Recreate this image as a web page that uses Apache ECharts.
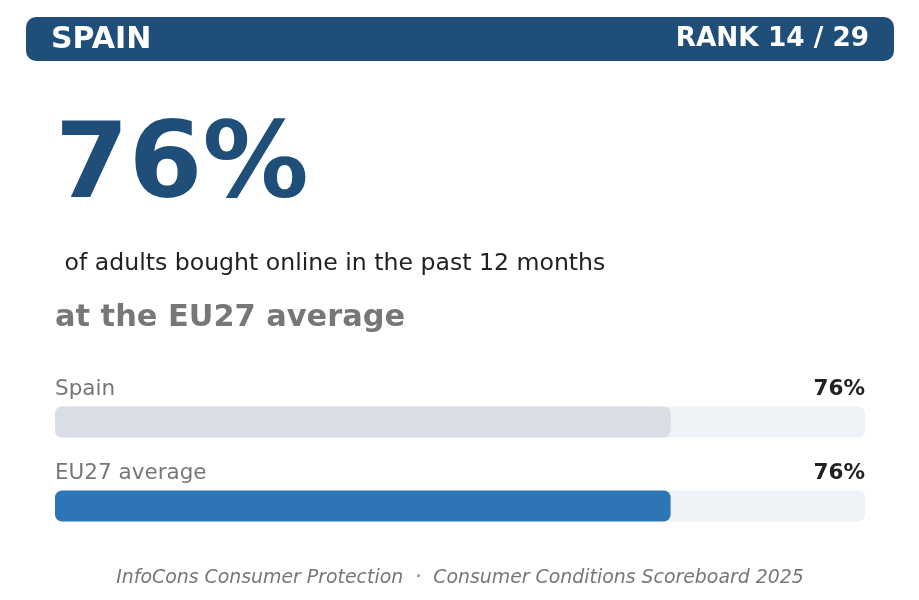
<!DOCTYPE html>
<html>
<head>
<meta charset="utf-8">
<script src="https://cdn.jsdelivr.net/npm/echarts@6/dist/echarts.min.js"></script>
<style>
  html, body { margin: 0; padding: 0; background: #fff; }
  #main { width: 919px; height: 600px; }
</style>
</head>
<body>
<div id="main"></div>
<script>
var country = "SPAIN";
var rankText = "RANK 14 / 29";
var headline = "76%";
var subtitle = "of adults bought online in the past 12 months";
var verdict = "at the EU27 average";
var footer = "InfoCons Consumer Protection  \u00b7  Consumer Conditions Scoreboard 2025";

var categories = ["Spain", "EU27 average"];
var values = [76, 76];
var barColors = ["#d9dee6", "#2e75b6"];

var font = "DejaVu Sans";
var chart = echarts.init(document.getElementById("main"));

function txt(x, y, text, fill, f, align) {
    return {
        type: "text", x: x, y: y,
        style: { text: text, fill: fill, font: f, textAlign: align || "left", textVerticalAlign: "middle" }
    };
}

var option = {
    animation: false,
    grid: { left: 55, right: 54, top: 380, height: 168 },
    xAxis: { type: "value", min: 0, max: 100, show: false },
    yAxis: {
        type: "category",
        data: categories,
        inverse: true,
        show: false
    },
    series: [{
        type: "bar",
        barWidth: 31,
        showBackground: true,
        backgroundStyle: { color: "#eef2f6", borderRadius: 7 },
        itemStyle: { borderRadius: 7 },
        data: values.map(function (v, i) {
            return { value: v, itemStyle: { color: barColors[i] } };
        })
    }],
    graphic: [
        {
            type: "rect", left: 26, top: 17,
            shape: { width: 868, height: 44, r: 10 },
            style: { fill: "#1f4e79" }
        },
        txt(51, 40, country, "#fff", "bold 30px '" + font + "'"),
        txt(869, 39, rankText, "#fff", "bold 26.3px '" + font + "'", "right"),
        txt(55, 169, headline, "#1f4e79", "bold 106px '" + font + "'"),
        txt(57, 264, " " + subtitle, "#222", "23.6px '" + font + "'"),
        txt(55, 318, verdict, "#777", "bold 30.4px '" + font + "'"),
        txt(460, 578, footer, "#777", "italic 18.9px '" + font + "'", "center")
    ]
};
chart.setOption(option);

// labels above each bar, placed from the axis scale
var labels = [];
categories.forEach(function (c, i) {
    var p = chart.convertToPixel({ gridIndex: 0 }, [0, i]);
    var end = chart.convertToPixel({ gridIndex: 0 }, [100, i]);
    labels.push(txt(p[0], p[1] - 33, c, "#777", "21.5px '" + font + "'"));
    labels.push(txt(end[0], p[1] - 33, values[i] + "%", "#222", "bold 21.5px '" + font + "'", "right"));
});
chart.setOption({ graphic: option.graphic.concat(labels) });
</script>
</body>
</html>
